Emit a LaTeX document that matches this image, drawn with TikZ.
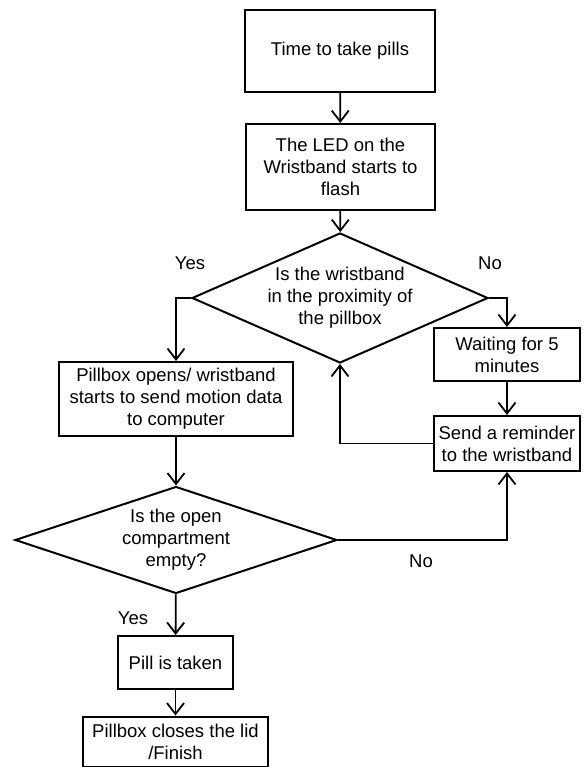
\documentclass[tikz,border=0pt]{standalone}
\usepackage{fontspec}
\setmainfont{Liberation Sans}
\usetikzlibrary{shapes.geometric,arrows.meta}

\tikzset{
  stepbox/.style={draw, line width=2pt, align=center, inner sep=0pt},
  choice/.style={draw, diamond, line width=2pt, align=center, inner sep=0pt},
  flow/.style={line width=1.8pt, -{Straight Barb[length=11pt,width=17pt,line width=1.8pt]}},
  lbl/.style={inner sep=0pt}
}

\begin{document}
\begin{tikzpicture}[x=1pt, y=-1pt, font=\fontsize{18.5}{22}\selectfont]
  \useasboundingbox (0,0) rectangle (584,767);
  \node[stepbox, minimum width=190pt, minimum height=82pt] (start) at (340,51) {Time to take pills};
  \node[stepbox, minimum width=189pt, minimum height=86pt] (led) at (340.5,167) {The LED on the\\Wristband starts to\\flash};
  \node[choice, minimum width=296pt, minimum height=130pt, aspect=2.28] (near) at (340,298) {Is the wristband\\in the proximity of\\the pillbox};
  \node[stepbox, minimum width=234pt, minimum height=74pt] (opens) at (176,399) {Pillbox opens/ wristband\\starts to send motion data\\to computer};
  \node[stepbox, minimum width=146pt, minimum height=53pt] (wait) at (507,354.5) {Waiting for 5\\minutes};
  \node[stepbox, minimum width=146pt, minimum height=55pt] (remind) at (507,443.5) {Send a reminder\\to the wristband};
  \node[choice, minimum width=322pt, minimum height=107pt, aspect=3.04] (empty) at (176,540) {Is the open\\compartment\\empty?};
  \node[stepbox, minimum width=115pt, minimum height=53pt] (taken) at (175.5,662.5) {Pill is taken};
  \node[stepbox, minimum width=185pt, minimum height=50pt] (finish) at (175.5,741.5) {Pillbox closes the lid\\/Finish};

  \node[lbl] (yesnear) at (190,263) {Yes};
  \node[lbl] (nonear) at (490,263) {No};
  \node[lbl] (noempty) at (421,561) {No};
  \node[lbl] (yesempty) at (133,618) {Yes};

  \draw[flow] (start) -- (led);
  \draw[flow] (led) -- (near);
  \draw[flow] (near.west) -| (opens.north);
  \draw[flow] (near.east) -| (wait.north);
  \draw[flow] (wait) -- (remind);
  \draw[flow] (remind.west) -| (near.south);
  \draw[flow] (opens) -- (empty);
  \draw[flow] (empty.east) -| (remind.south);
  \draw[flow] (empty) -- (taken);
  \draw[flow] (taken) -- (finish);
\end{tikzpicture}
\end{document}
